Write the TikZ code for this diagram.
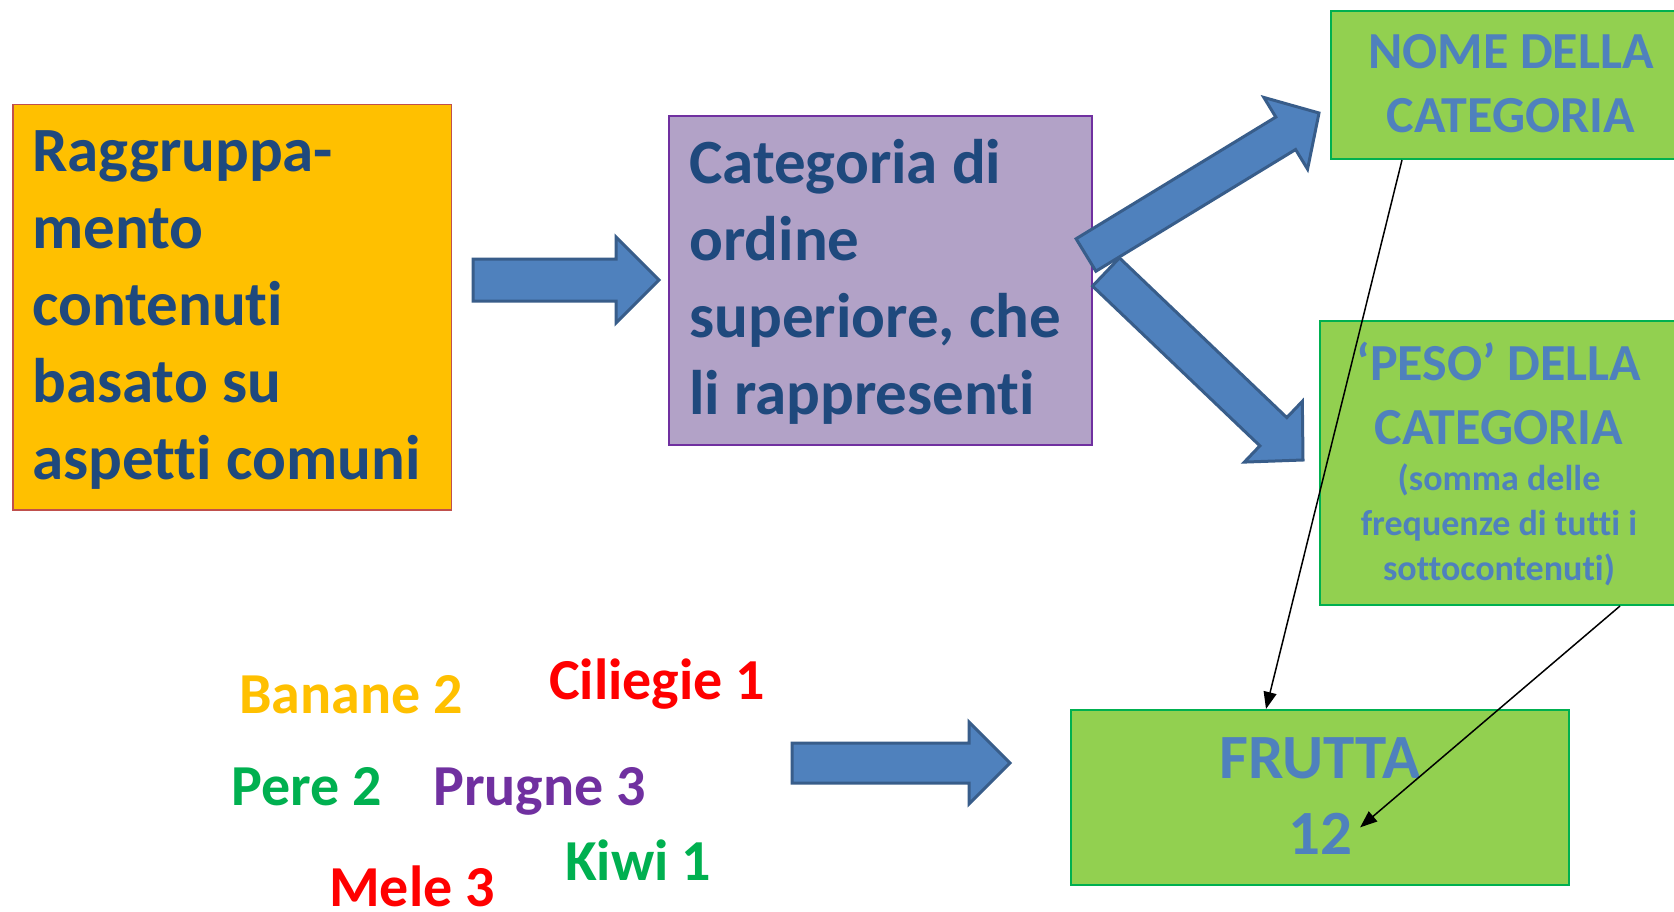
\documentclass[tikz,border=0pt]{standalone}
\usepackage{fontspec}
\setmainfont{Carlito}[Ligatures={NoCommon}]
\usetikzlibrary{calc,arrows.meta}
\definecolor{orangefill}{HTML}{FFC000}
\definecolor{orangeedge}{HTML}{C0504D}
\definecolor{purplefill}{HTML}{B2A2C7}
\definecolor{purpleedge}{HTML}{7030A0}
\definecolor{greenfill}{HTML}{92D050}
\definecolor{greenedge}{HTML}{00B050}
\definecolor{darktext}{HTML}{1F497D}
\definecolor{boxtext}{HTML}{4F81BD}
\definecolor{arrowfill}{HTML}{4F81BD}
\definecolor{arrowedge}{HTML}{385D8A}
\definecolor{fruitred}{HTML}{FF0000}
\definecolor{fruitgreen}{HTML}{00B050}
\definecolor{fruitpurple}{HTML}{7030A0}
\definecolor{fruityellow}{HTML}{FFC000}
\newcommand{\blockarrow}[6]{%
  \coordinate (#6n) at ($(#2)!#5!(#1)$);
  \draw[blockarrowstyle]
    ($(#1)!#3!90:(#2)$) -- ($(#6n)!#3!90:(#2)$) -- ($(#6n)!#4!90:(#2)$) -- (#2)
    -- ($(#6n)!#4!-90:(#2)$) -- ($(#6n)!#3!-90:(#2)$) -- ($(#1)!#3!-90:(#2)$) -- cycle;}
\begin{document}
\begin{tikzpicture}[x=1pt,y=-1pt,
  blockarrowstyle/.style={fill=arrowfill,draw=arrowedge,line width=3pt,line join=miter},
  bigtext/.style={font=\fontsize{63}{77}\selectfont\bfseries,text=darktext,inner sep=0pt,anchor=base west},
  gtitle/.style={font=\fontsize{52}{64}\selectfont\bfseries,text=boxtext,inner sep=0pt,anchor=base},
  gsmall/.style={font=\fontsize{36}{45}\selectfont\bfseries,text=boxtext,inner sep=0pt,anchor=base},
  fruit/.style={font=\fontsize{58}{68}\selectfont\bfseries,inner sep=0pt,anchor=base west},
  gbox/.style={fill=greenfill,draw=greenedge,line width=2pt,inner sep=0pt,anchor=north west},
  thinarrow/.style={line width=1.5pt,-{Triangle[length=17pt,width=13pt]}}]
\useasboundingbox (0,0) rectangle (1674,911);
\fill[white] (0,0) rectangle (1674,911);
% boxes
\node[fill=orangefill,draw=orangeedge,line width=1.5pt,inner sep=0pt,anchor=north west,
  minimum width=438.5pt,minimum height=405.5pt] (orange) at (12,103.5) {};
\node[fill=purplefill,draw=purpleedge,line width=2pt,inner sep=0pt,anchor=north west,
  minimum width=423pt,minimum height=329pt] (purple) at (668,115) {};
\node[gbox,minimum width=370pt,minimum height=148pt] (nome) at (1330,10) {};
\node[gbox,minimum width=380pt,minimum height=284pt] (peso) at (1318.5,320) {};
\node[gbox,minimum width=498pt,minimum height=175pt] (frutta) at (1070,709) {};
% orange text
\node[bigtext] (o1) at (32,171) {Raggruppa-};
\node[bigtext] (o2) at (32,248) {mento};
\node[bigtext] (o3) at (32,325) {contenuti};
\node[bigtext] (o4) at (32,402) {basato su};
\node[bigtext] (o5) at (32,479) {aspetti comuni};
% purple text
\node[bigtext] (p1) at (689,183) {Categoria di};
\node[bigtext] (p2) at (689,260) {ordine};
\node[bigtext] (p3) at (689,337) {superiore, che};
\node[bigtext] (p4) at (689,414) {li rappresenti};
% green texts
\node[gtitle] (n1) at (1511,68) {NOME DELLA};
\node[gtitle] (n2) at (1511,132) {CATEGORIA};
\node[gtitle] (w1) at (1499,380) {‘PESO’ DELLA};
\node[gtitle] (w2) at (1499,444) {CATEGORIA};
\node[gsmall] (w3) at (1499,490) {(somma delle};
\node[gsmall] (w4) at (1499,535) {frequenze di tutti i};
\node[gsmall] (w5) at (1499,580) {sottocontenuti)};
\node[font=\fontsize{63}{76}\selectfont\bfseries,text=boxtext,inner sep=0pt,anchor=base] (ft) at (1320,778) {FRUTTA};
\node[font=\fontsize{63}{76}\selectfont\bfseries,text=boxtext,inner sep=0pt,anchor=base] (twelve) at (1320,854) {12};
% fruits
\node[fruit,text=fruityellow] (banane) at (239,713) {Banane 2};
\node[fruit,text=fruitred] (ciliegie) at (549,699) {Ciliegie 1};
\node[fruit,text=fruitgreen] (pere) at (231,805) {Pere 2};
\node[fruit,text=fruitpurple] (prugne) at (433,805) {Prugne 3};
\node[fruit,text=fruitgreen] (kiwi) at (565,880) {Kiwi 1};
\node[fruit,text=fruitred] (mele) at (329,906) {Mele 3};
% block arrows
\coordinate (a1t) at (473,280);
\coordinate (a1h) at (659,280);
\blockarrow{a1t}{a1h}{21pt}{43pt}{43pt}{a1}
\coordinate (a2t) at (1086,255);
\coordinate (a2h) at (1319,113);
\blockarrow{a2t}{a2h}{19pt}{42pt}{39pt}{a2}
\coordinate (a3t) at (1106,272);
\coordinate (a3h) at (1303,460);
\blockarrow{a3t}{a3h}{19.5pt}{42pt}{41pt}{a3}
\coordinate (a4t) at (792,763);
\coordinate (a4h) at (1010,763);
\blockarrow{a4t}{a4h}{20pt}{41pt}{41pt}{a4}
% thin arrows
\coordinate (nomefoot) at ($(nome.south west)+(72,0)$);
\coordinate (fruttatop) at ($(frutta.north west)+(196,0)$);
\coordinate (pesofoot) at ($(peso.south west)+(301.5,0)$);
\coordinate (twelvetip) at ($(twelve.east)+(8,-6)$);
\draw[thinarrow] (nomefoot) -- (fruttatop);
\draw[thinarrow] (pesofoot) -- (twelvetip);
\end{tikzpicture}
\end{document}
